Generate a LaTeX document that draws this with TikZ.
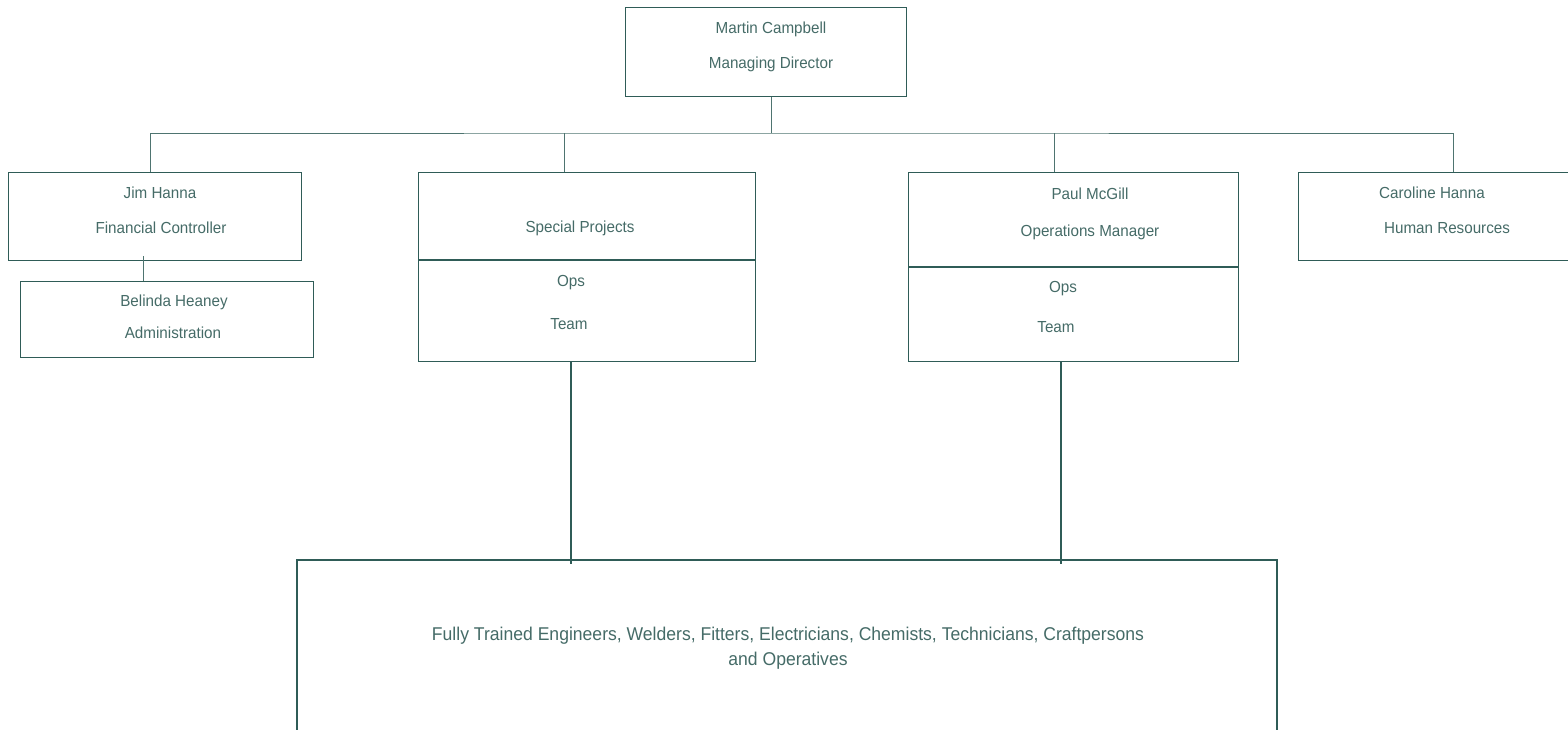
\documentclass[tikz,border=0pt]{standalone}
\usepackage{fontspec}
\setmainfont{Liberation Sans}[FakeStretch=0.95]
\usepackage{tikz}
\definecolor{orgline}{HTML}{2F5C57}
\definecolor{orgtext}{HTML}{456B67}

\begin{document}
\begin{tikzpicture}
    [
        x=1pt, y=-1pt,
        box_style/.style={rectangle, draw=orgline, line width=1.3pt, inner sep=0pt, anchor=north west},
        crew_style/.style={rectangle, draw=orgline, line width=2pt, inner sep=0pt, anchor=north west},
        text_style/.style={inner sep=0pt, text=orgtext, font=\fontsize{16}{19}\selectfont},
        link_style/.style={draw=orgline!85, line width=0.9pt},
        team_style/.style={draw=orgline, line width=2pt}
    ]
        \useasboundingbox (0,0) rectangle (1568,729);

        % boxes
        \node[box_style, minimum width=281, minimum height=89] (md) at (625,7) {};
        \node[box_style, minimum width=293, minimum height=88] (jim) at (8,172) {};
        \node[box_style, minimum width=293, minimum height=76] (bel) at (20,281) {};
        \node[box_style, minimum width=337, minimum height=189] (sp) at (418,172) {};
        \node[box_style, minimum width=330, minimum height=189] (ops) at (908,172) {};
        \node[box_style, minimum width=320, minimum height=88] (hr) at (1298,172) {};
        \node[crew_style, minimum width=980, minimum height=200] (crew) at (296,559) {};

        % dividers
        \draw[box_style] (sp.west |- 0,260) -- (sp.east |- 0,260);
        \draw[box_style] (ops.west |- 0,267) -- (ops.east |- 0,267);

        % texts
        \node[text_style] (mdname) at (771,29) {Martin Campbell};
        \node[text_style] (mdrole) at (771,64) {Managing Director};
        \node[text_style] (jimname) at (160,193) {Jim Hanna};
        \node[text_style] (jimrole) at (161,228) {Financial Controller};
        \node[text_style] (belname) at (174,302) {Belinda Heaney};
        \node[text_style] (belrole) at (173,333) {Administration};
        \node[text_style] (spname) at (580,228) {Special Projects};
        \node[text_style] (spops) at (571,283) {Ops};
        \node[text_style] (spteam) at (569,324) {Team};
        \node[text_style] (opsname) at (1090,194) {Paul McGill};
        \node[text_style] (opsrole) at (1090,232) {Operations Manager};
        \node[text_style] (opsops) at (1063,289) {Ops};
        \node[text_style] (opsteam) at (1056,327) {Team};
        \node[text_style] (hrname) at (1432,193) {Caroline Hanna};
        \node[text_style] (hrrole) at (1447,228) {Human Resources};
        \node[text_style, align=center, font=\fontsize{18.5}{25}\selectfont] (crewtext) at (788,648)
            {Fully Trained Engineers, Welders, Fitters, Electricians, Chemists, Technicians, Craftpersons\\and Operatives};

        % connectors
        \coordinate (bus) at (771,133);
        \coordinate (jimtop) at (150,172);
        \coordinate (sptop) at (564,172);
        \coordinate (opstop) at (1054,172);
        \coordinate (hrtop) at (1453,172);
        \coordinate (jimbot) at (143,256);
        \coordinate (spbot) at (571,361);
        \coordinate (opsbot) at (1061,361);

        \draw[link_style] (md.south -| bus) -- (bus);
        \draw[link_style] (jimtop) |- (bus) -| (hrtop);
        \draw[link_style] (sptop) -- (sptop |- bus);
        \draw[link_style] (opstop) -- (opstop |- bus);
        \draw[link_style] (jimbot) -- (jimbot |- bel.north);
        \draw[team_style] (spbot) -- ([yshift=-5pt]spbot |- crew.north);
        \draw[team_style] (opsbot) -- ([yshift=-5pt]opsbot |- crew.north);
    \end{tikzpicture}
\end{document}
